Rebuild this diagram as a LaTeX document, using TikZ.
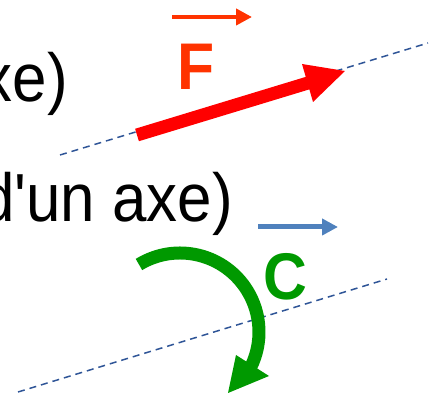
\documentclass[tikz,border=0pt]{standalone}
\usepackage{fontspec}
\setmainfont{Liberation Sans}[Ligatures=TeXOff]
\usetikzlibrary{arrows.meta}
\definecolor{axisblue}{RGB}{47,85,151}
\definecolor{forcered}{RGB}{255,0,0}
\definecolor{vecorange}{RGB}{255,51,0}
\definecolor{vecblue}{RGB}{79,129,189}
\definecolor{coupgreen}{RGB}{0,153,0}
\newcommand{\narrow}[1]{\scalebox{0.91}[1]{#1}}
\tikzset{
  axisline/.style={draw=axisblue, line width=1.5pt, dash pattern=on 7pt off 5pt},
  bigtext/.style={inner sep=0pt, font=\fontsize{68}{82}\selectfont},
  symlabel/.style={inner sep=0pt, font=\fontsize{66}{80}\selectfont\bfseries},
}
\begin{document}
\begin{tikzpicture}[x=1pt,y=1pt]
\useasboundingbox (0,0) rectangle (438,395);
\clip (0,0) rectangle (438,395);
% texts (cut by the left border, as in the reference)
\node[bigtext, anchor=base east] (t1) at (68,293) {\narrow{axe)}};
\node[bigtext, anchor=base east] (t2) at (233,173) {\narrow{d'un axe)}};
% axes
\coordinate (a1) at (60,240);
\coordinate (a2) at (428,352);
\draw[axisline] (a1) -- (a2);
\coordinate (b1) at (18,3);
\coordinate (b2) at (387,116);
\draw[axisline] (b1) -- (b2);
% force arrow
\coordinate (fs) at (137,260);
\coordinate (fe) at (308,312);
\draw[forcered, line width=13pt] (fs) -- (fe);
\fill[forcered] (302,331) -- (345,324) -- (313,293) -- cycle;
% vector F symbol
\coordinate (v1) at (172,378);
\coordinate (v2) at (252,378);
\draw[vecorange, line width=4pt, -{Triangle[length=16pt,width=16pt]}] (v1) -- (v2);
\node[symlabel, text=vecorange, anchor=base] (F) at (196,305) {\scalebox{0.92}[1]{F}};
% vector C symbol
\coordinate (w1) at (258,168);
\coordinate (w2) at (338,168);
\draw[vecblue, line width=5pt, -{Triangle[length=16pt,width=16pt]}] (w1) -- (w2);
\node[symlabel, text=coupgreen, anchor=base] (C) at (285,95) {\scalebox{0.92}[1]{C}};
% couple arc
\coordinate (cc) at (180,63);
\draw[coupgreen, line width=13pt] ([shift={(121.3:79)}]cc) arc[start angle=121.3, end angle=-26, radius=79];
\fill[coupgreen] (236,40) -- (269,19) -- (228,2) -- cycle;
\end{tikzpicture}
\end{document}
